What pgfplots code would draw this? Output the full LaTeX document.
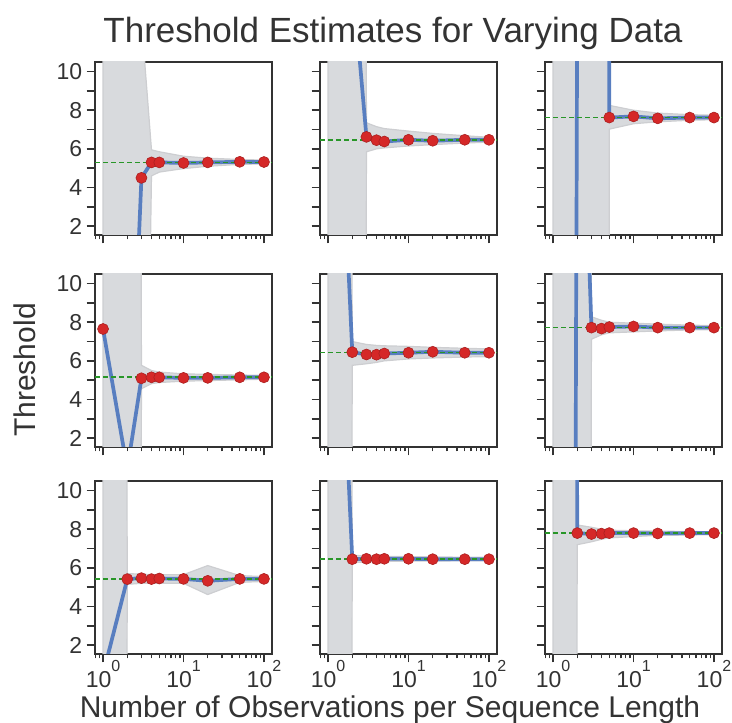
\documentclass[border=0pt]{standalone}
\usepackage{pgfplots}
\pgfplotsset{compat=1.18}
\usepackage{fontspec}
\setmainfont{Liberation Sans}
\definecolor{txt}{RGB}{51,51,51}
\definecolor{bandfill}{RGB}{216,218,221}
\definecolor{bandedge}{RGB}{205,206,209}
\definecolor{blueline}{RGB}{88,126,192}
\definecolor{reddot}{RGB}{213,40,40}
\definecolor{greenline}{RGB}{40,150,40}
\newcommand{\tp}[1]{10\raisebox{0.68em}{\fontsize{16}{16}\selectfont #1}}
\pgfplotsset{
  scale only axis, width=177pt, height=173pt,
  xmin=0.7943, xmax=125.89, ymin=1.55, ymax=10.5,
  xtick={1,10,100}, minor xtick={0.8,0.9,2,3,4,5,6,7,8,9,20,30,40,50,60,70,80,90},
  ytick={2,3,4,5,6,7,8,9,10},
  tick align=outside, xtick pos=left, ytick pos=left,
  major tick length=8.5pt, minor tick length=4.5pt,
  every tick/.style={txt, line width=1.5pt},
  every axis/.append style={line width=1.8pt},
  axis line style={txt},
  every tick label/.append style={font=\fontsize{23}{23}\selectfont, text=txt},
  xticklabel style={yshift=6pt},
}
\tikzset{
 myBand/.style={fill=bandfill, draw=bandedge, line width=1.2pt},
 myEst/.style={blueline, line width=3.7pt, mark=*, mark size=5.5pt,
   mark options={fill=reddot, draw=reddot!80!black, line width=0.6pt}},
 myTruth/.style={greenline, line width=1.7pt, dash pattern=on 5pt off 3pt},
}
\begin{document}
\begin{tikzpicture}
\useasboundingbox (0,0) rectangle (732pt,723pt);
% ---------- row 1 ----------
\begin{semilogxaxis}[anchor=south west, at={(95pt,488pt)}, xticklabels={}, yticklabels={2,,4,,6,,8,,10}]
\addplot[myBand] coordinates {(1,400)(2,400)(3,12.7)(4,5.95)(5,5.85)(10,5.62)(20,5.52)(50,5.45)(100,5.42)
 (100,5.22)(50,5.2)(20,5.1)(10,4.98)(5,4.8)(4,4.6)(3,-30)(2,-400)(1,-400)} -- cycle;
\addplot[myEst] coordinates {(1,-400)(2,-13)(3,4.5)(4,5.3)(5,5.3)(10,5.27)(20,5.3)(50,5.33)(100,5.32)};
\addplot[myTruth] coordinates {(0.7943,5.3)(125.89,5.3)};
\end{semilogxaxis}
\begin{semilogxaxis}[anchor=south west, at={(320pt,488pt)}, xticklabels={}, yticklabels={}]
\addplot[myBand] coordinates {(1,400)(2,400)(3,7.35)(4,7.15)(5,7.05)(10,6.92)(20,6.8)(50,6.68)(100,6.6)
 (100,6.35)(50,6.3)(20,6.22)(10,6.15)(5,6.05)(4,6.0)(3,5.85)(2,-400)(1,-400)} -- cycle;
\addplot[myEst] coordinates {(1,30)(2,15)(3,6.62)(4,6.45)(5,6.38)(10,6.47)(20,6.42)(50,6.47)(100,6.47)};
\addplot[myTruth] coordinates {(0.7943,6.47)(125.89,6.47)};
\end{semilogxaxis}
\begin{semilogxaxis}[anchor=south west, at={(545pt,488pt)}, xticklabels={}, yticklabels={}]
\addplot[myBand] coordinates {(1,400)(2,400)(3,400)(4,400)(5,8.25)(10,8.0)(20,7.85)(50,7.77)(100,7.74)
 (100,7.51)(50,7.48)(20,7.4)(10,7.3)(5,7.02)(4,-400)(3,-400)(2,-400)(1,-400)} -- cycle;
\addplot[myEst] coordinates {(1,-400)(2,15)(3,400)(4,400)(5,7.62)(10,7.68)(20,7.58)(50,7.62)(100,7.62)};
\addplot[myTruth] coordinates {(0.7943,7.62)(125.89,7.62)};
\end{semilogxaxis}
% ---------- row 2 ----------
\begin{semilogxaxis}[anchor=south west, at={(95pt,276pt)}, xticklabels={}, yticklabels={2,,4,,6,,8,,10}]
\addplot[myBand] coordinates {(1,400)(2,400)(3,5.77)(4,5.5)(5,5.42)(10,5.33)(20,5.3)(50,5.27)(100,5.25)
 (100,5.05)(50,5.02)(20,4.98)(10,4.95)(5,4.88)(4,4.82)(3,4.56)(2,-400)(1,-400)} -- cycle;
\addplot[myEst] coordinates {(1,7.65)(2,0.4)(3,5.1)(4,5.15)(5,5.15)(10,5.12)(20,5.12)(50,5.15)(100,5.15)};
\addplot[myTruth] coordinates {(0.7943,5.16)(125.89,5.16)};
\end{semilogxaxis}
\begin{semilogxaxis}[anchor=south west, at={(320pt,276pt)}, xticklabels={}, yticklabels={}]
\addplot[myBand] coordinates {(1,400)(2,7.0)(3,6.85)(4,6.8)(5,6.78)(10,6.75)(20,6.7)(50,6.65)(100,6.62)
 (100,6.22)(50,6.2)(20,6.15)(10,6.1)(5,6.0)(4,5.92)(3,5.85)(2,5.77)(1,-400)} -- cycle;
\addplot[myEst] coordinates {(1,34)(2,6.45)(3,6.33)(4,6.32)(5,6.38)(10,6.42)(20,6.47)(50,6.42)(100,6.42)};
\addplot[myTruth] coordinates {(0.7943,6.44)(125.89,6.44)};
\end{semilogxaxis}
\begin{semilogxaxis}[anchor=south west, at={(545pt,276pt)}, xticklabels={}, yticklabels={}]
\addplot[myBand] coordinates {(1,400)(2,400)(3,8.28)(4,8.1)(5,8.0)(10,7.95)(20,7.9)(50,7.85)(100,7.82)
 (100,7.62)(50,7.6)(20,7.55)(10,7.5)(5,7.45)(4,7.35)(3,7.12)(2,-400)(1,-400)} -- cycle;
\addplot[myEst] coordinates {(1,-400)(2,29)(3,7.72)(4,7.67)(5,7.75)(10,7.78)(20,7.72)(50,7.72)(100,7.72)};
\addplot[myTruth] coordinates {(0.7943,7.72)(125.89,7.72)};
\end{semilogxaxis}
% ---------- row 3 ----------
\begin{semilogxaxis}[anchor=south west, at={(95pt,69pt)}, xticklabels={\tp{0},\tp{1},\tp{2}}, yticklabels={2,,4,,6,,8,,10}]
\addplot[myBand] coordinates {(1,400)(2,5.7)(3,5.68)(4,5.65)(5,5.65)(10,5.65)(20,6.12)(50,5.6)(100,5.55)
 (100,5.3)(50,5.25)(20,4.62)(10,5.2)(5,5.2)(4,5.2)(3,5.2)(2,5.15)(1,-400)} -- cycle;
\addplot[myEst] coordinates {(1,0.5)(2,5.42)(3,5.47)(4,5.42)(5,5.45)(10,5.43)(20,5.33)(50,5.43)(100,5.43)};
\addplot[myTruth] coordinates {(0.7943,5.42)(125.89,5.42)};
\end{semilogxaxis}
\begin{semilogxaxis}[anchor=south west, at={(320pt,69pt)}, xticklabels={\tp{0},\tp{1},\tp{2}}, yticklabels={}]
\addplot[myBand] coordinates {(1,400)(2,6.65)(3,6.62)(4,6.6)(5,6.6)(10,6.58)(20,6.57)(50,6.55)(100,6.55)
 (100,6.37)(50,6.37)(20,6.35)(10,6.35)(5,6.33)(4,6.33)(3,6.3)(2,6.28)(1,-400)} -- cycle;
\addplot[myEst] coordinates {(1,34)(2,6.45)(3,6.47)(4,6.45)(5,6.47)(10,6.47)(20,6.45)(50,6.45)(100,6.45)};
\addplot[myTruth] coordinates {(0.7943,6.45)(125.89,6.45)};
\end{semilogxaxis}
\begin{semilogxaxis}[anchor=south west, at={(545pt,69pt)}, xticklabels={\tp{0},\tp{1},\tp{2}}, yticklabels={}]
\addplot[myBand] coordinates {(1,400)(2,8.22)(3,8.1)(4,8.0)(5,7.95)(10,7.92)(20,7.9)(50,7.88)(100,7.87)
 (100,7.72)(50,7.7)(20,7.68)(10,7.62)(5,7.55)(4,7.48)(3,7.35)(2,7.2)(1,-400)} -- cycle;
\addplot[myEst] coordinates {(1,400)(2,7.8)(3,7.75)(4,7.77)(5,7.8)(10,7.8)(20,7.78)(50,7.8)(100,7.8)};
\addplot[myTruth] coordinates {(0.7943,7.8)(125.89,7.8)};
\end{semilogxaxis}
% ---------- labels ----------
\node[anchor=base, font=\fontsize{35}{35}\selectfont, text=txt] at (393pt,680pt) {Threshold Estimates for Varying Data};
\node[anchor=base, rotate=90, font=\fontsize{30}{30}\selectfont, text=txt] at (35pt,353pt) {Threshold};
\node[anchor=base, font=\fontsize{30}{30}\selectfont, text=txt] at (390pt,5pt) {Number of Observations per Sequence Length};
\end{tikzpicture}
\end{document}
